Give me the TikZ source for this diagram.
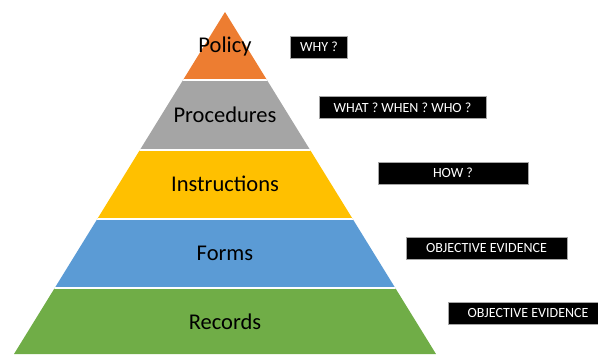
\documentclass[tikz,border=0pt]{standalone}
\usepackage{fontspec}
\setmainfont{Carlito}
\usepackage{tikz}
\usetikzlibrary{calc}

\definecolor{policyc}{HTML}{ED7D31}
\definecolor{procc}{HTML}{A5A5A5}
\definecolor{instrc}{HTML}{FFC000}
\definecolor{formc}{HTML}{5B9BD5}
\definecolor{recc}{HTML}{70AD47}

\begin{document}
\begin{tikzpicture}[x=1pt,y=-1pt,
    layer/.style={font=\fontsize{22.5}{27}\selectfont, text=black, inner sep=0pt},
    qbox/.style={fill=black, draw=gray!70, line width=0.8pt, text=white,
      font=\fontsize{14}{16}\selectfont, inner sep=0pt, minimum height=22pt}]
      \useasboundingbox (0,0) rectangle (598,354);
      \coordinate (apex) at (225,12);
      \coordinate (bl) at (14,354);
      \coordinate (br) at (436,354);
      % bands of the pyramid
      \begin{scope}
        \clip (apex) -- (bl) -- (br) -- cycle;
        \foreach \top/\bot/\col in {0/80/policyc, 80/150/procc, 150/219/instrc, 219/288/formc, 288/360/recc}
          \fill[\col] (0,\top) rectangle (598,\bot);
        \foreach \y in {80,150,219,288}
          \draw[white, line width=1.5pt] (0,\y) -- (598,\y);
      \end{scope}
      \node[layer] (policy) at (225,46) {Policy};
      \node[layer] (proc) at (225,115) {Procedures};
      \node[layer] (instr) at (225,184) {Instructions};
      \node[layer] (forms) at (225,253) {Forms};
      \node[layer] (rec) at (225,322) {Records};
      % questions
      \node[qbox, minimum width=57pt] (why) at (319,47) {WHY ?};
      \node[qbox, minimum width=167pt] (what) at (402.5,107.5) {WHAT ? WHEN ? WHO ?};
      \node[qbox, minimum width=150pt] (how) at (453,173) {HOW ?};
      \node[qbox, minimum width=161pt] (obj) at (486.5,248) {OBJECTIVE EVIDENCE};
      \node[qbox, minimum width=160pt] (objrec) at (528,313.5) {OBJECTIVE EVIDENCE};
    \end{tikzpicture}
\end{document}
